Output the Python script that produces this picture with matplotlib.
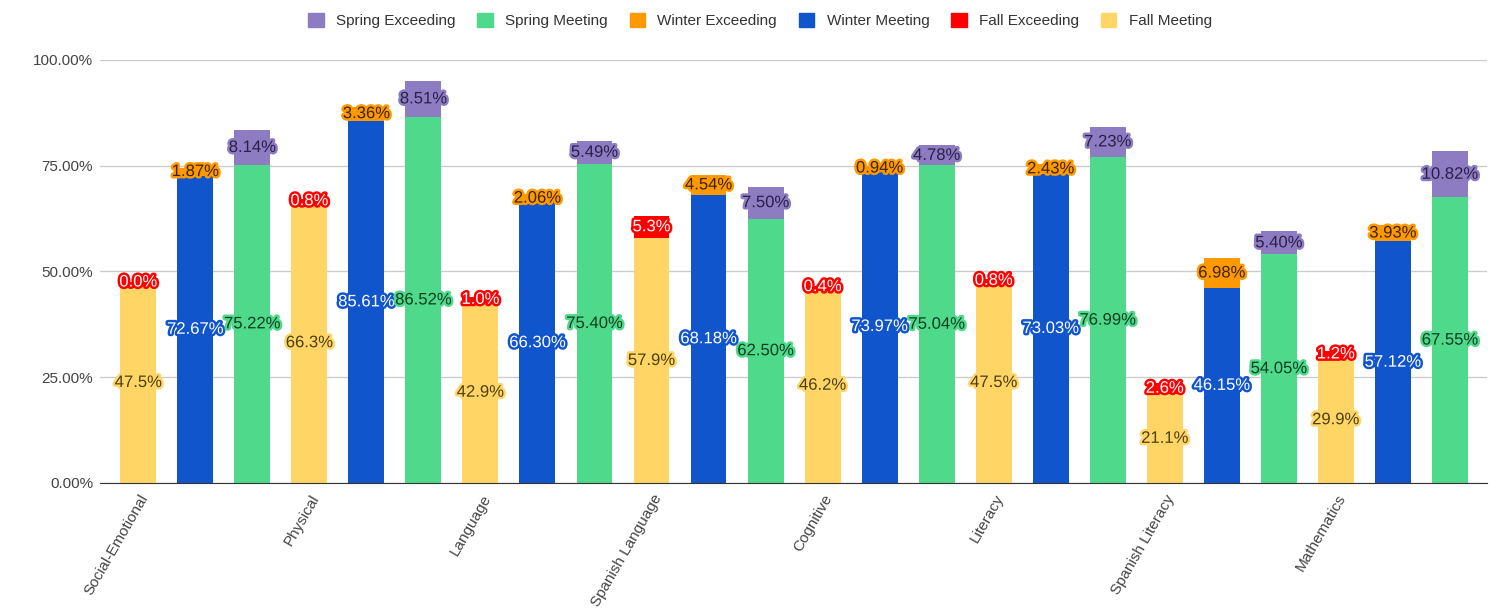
import numpy as np
import matplotlib
matplotlib.use("Agg")
import matplotlib.pyplot as plt
import matplotlib.patheffects as pe
from matplotlib.patches import Patch
from matplotlib.ticker import FuncFormatter

plt.rcParams['font.family'] = ['Liberation Sans', 'DejaVu Sans']

# ==================== DATA ====================
domains = ["Social-Emotional", "Physical", "Language", "Spanish Language",
           "Cognitive", "Literacy", "Spanish Literacy", "Mathematics"]

fall_meeting = [47.5, 66.3, 42.9, 57.9, 46.2, 47.5, 21.1, 29.9]
fall_exceeding = [0.0, 0.8, 1.0, 5.3, 0.4, 0.8, 2.6, 1.2]
winter_meeting = [72.67, 85.61, 66.30, 68.18, 73.97, 73.03, 46.15, 57.12]
winter_exceeding = [1.87, 3.36, 2.06, 4.54, 0.94, 2.43, 6.98, 3.93]
spring_meeting = [75.22, 86.52, 75.40, 62.50, 75.04, 76.99, 54.05, 67.55]
spring_exceeding = [8.14, 8.51, 5.49, 7.50, 4.78, 7.23, 5.40, 10.82]

y_ticks = [0, 25, 50, 75, 100]

# colours: (bar, label text, label outline)
C_FALL_M = ("#ffd666", "#4d3f10", "#ffd666")
C_FALL_E = ("#ff0000", "#ffffff", "#ff0000")
C_WIN_M = ("#1155cc", "#ffffff", "#1155cc")
C_WIN_E = ("#ff9900", "#3d2400", "#ff9900")
C_SPR_M = ("#4fd98b", "#0b3f1f", "#4fd98b")
C_SPR_E = ("#8e7cc3", "#2b2048", "#8e7cc3")

# ==================== PLOT ====================
fig = plt.figure(figsize=(15.02, 6.11), dpi=100)
ax = fig.add_axes([0.0666, 0.2095, 0.9234, 0.6925])

n = len(domains)
idx = np.arange(n) * 3
width = 0.63


def stack(xpos, meet, exc, cm, ce, decimals):
    meet = np.array(meet)
    exc = np.array(exc)
    ax.bar(xpos, meet, width, color=cm[0], zorder=2)
    ax.bar(xpos, exc, width, bottom=meet, color=ce[0], zorder=2)
    fmt = "{:.%df}%%" % decimals
    for x, m, e in zip(xpos, meet, exc):
        ax.text(x, m / 2, fmt.format(m), ha="center", va="center", fontsize=12,
                color=cm[1], zorder=4,
                path_effects=[pe.withStroke(linewidth=3.5, foreground=cm[2])])
        ax.text(x, m + e / 2, fmt.format(e), ha="center", va="center", fontsize=12,
                color=ce[1], zorder=4,
                path_effects=[pe.withStroke(linewidth=3.5, foreground=ce[2])])


stack(idx, fall_meeting, fall_exceeding, C_FALL_M, C_FALL_E, 1)
stack(idx + 1, winter_meeting, winter_exceeding, C_WIN_M, C_WIN_E, 2)
stack(idx + 2, spring_meeting, spring_exceeding, C_SPR_M, C_SPR_E, 2)

ax.set_xlim(-0.67, 23.65)
ax.set_ylim(0, 100)
ax.set_yticks(y_ticks)
ax.yaxis.set_major_formatter(FuncFormatter(lambda v, p: "%.2f%%" % v))
ax.grid(axis="y", color="#cccccc", linewidth=1, zorder=0)
ax.set_axisbelow(True)
for s in ["top", "right", "left"]:
    ax.spines[s].set_visible(False)
ax.spines["bottom"].set_color("#333333")
ax.spines["bottom"].set_zorder(3)
ax.tick_params(axis="both", length=0, labelsize=11, labelcolor="#444444")
ax.tick_params(axis="y", pad=5)

ax.set_xticks(idx + 0.12)
ax.set_xticklabels(domains, rotation=60, ha="right", va="center",
                   rotation_mode="anchor")
ax.tick_params(axis="x", pad=9)

handles = [
    Patch(color=C_SPR_E[0], label="Spring Exceeding"),
    Patch(color=C_SPR_M[0], label="Spring Meeting"),
    Patch(color=C_WIN_E[0], label="Winter Exceeding"),
    Patch(color=C_WIN_M[0], label="Winter Meeting"),
    Patch(color=C_FALL_E[0], label="Fall Exceeding"),
    Patch(color=C_FALL_M[0], label="Fall Meeting"),
]
fig.legend(handles=handles, loc="center", bbox_to_anchor=(0.506, 0.966), ncol=6,
           frameon=False, fontsize=11, handlelength=1.0, handleheight=1.0,
           handletextpad=0.8, columnspacing=1.45, labelcolor="#333333")

plt.savefig("out.png", dpi=100)
plt.close()
